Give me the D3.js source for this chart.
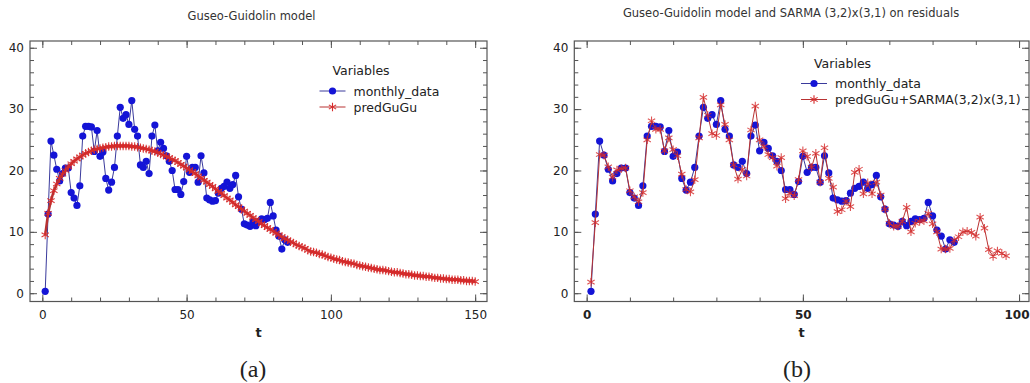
<!DOCTYPE html>
<html>
<head>
<meta charset="utf-8">
<script src="https://cdn.jsdelivr.net/npm/d3@7"></script>
<style>
  body { margin: 0; background: #fff; }
  svg { display: block; }
</style>
</head>
<body>
<svg id="chart" width="1030" height="383"></svg>
<script>
// monthly observations, t = 1..85
const monthlyData = [
  0.3, 12.9, 24.8, 22.5, 20.2, 18.3, 19.5, 20.4, 20.4, 16.4,
  15.5, 14.3, 17.5, 25.6, 27.2, 27.2, 27.1, 23.1, 26.5, 22.3,
  23.0, 18.7, 16.8, 18.1, 20.5, 25.6, 30.3, 28.5, 29.1, 27.5,
  31.4, 26.7, 25.6, 20.9, 20.5, 21.5, 19.5, 25.6, 27.4, 23.2,
  24.6, 23.6, 22.4, 21.5, 20.0, 16.9, 16.9, 16.1, 18.2, 22.3,
  19.7, 20.5, 20.5, 18.1, 22.4, 19.6, 15.5, 15.2, 15.0, 15.1,
  16.3, 17.1, 17.4, 18.1, 17.1, 17.7, 19.2, 15.7, 13.7, 11.3,
  11.1, 10.9, 11.7, 11.0, 11.7, 12.1, 12.0, 12.2, 14.8, 12.6,
  10.3, 9.3, 7.2, 8.7, 8.3
];

// Guseo-Guidolin fitted values, t = 1..150
const predGuGu = [
  9.5, 13.0, 15.1, 16.7, 17.8, 18.7, 19.4, 20.0, 20.6, 21.1,
  21.5, 21.9, 22.2, 22.5, 22.8, 23.0, 23.2, 23.4, 23.5, 23.6,
  23.7, 23.8, 23.9, 23.9, 24.0, 24.0, 24.0, 24.0, 24.0, 24.0,
  23.9, 23.9, 23.8, 23.7, 23.6, 23.5, 23.4, 23.2, 23.1, 22.9,
  22.7, 22.5, 22.3, 22.1, 21.8, 21.6, 21.3, 21.0, 20.7, 20.4,
  20.1, 19.8, 19.5, 19.1, 18.8, 18.4, 18.1, 17.7, 17.4, 17.0,
  16.6, 16.3, 15.9, 15.5, 15.2, 14.8, 14.4, 14.1, 13.7, 13.4,
  13.0, 12.7, 12.3, 12.0, 11.7, 11.3, 11.0, 10.7, 10.4, 10.1,
  9.8, 9.5, 9.2, 8.9, 8.7, 8.4, 8.2, 7.9, 7.7, 7.5,
  7.3, 7.0, 6.8, 6.7, 6.6, 6.4, 6.3, 6.1, 5.9, 5.8,
  5.6, 5.5, 5.4, 5.2, 5.1, 5.0, 4.9, 4.8, 4.6, 4.5,
  4.4, 4.3, 4.2, 4.1, 4.0, 3.9, 3.8, 3.8, 3.7, 3.6,
  3.5, 3.4, 3.4, 3.3, 3.2, 3.1, 3.1, 3.0, 2.9, 2.9,
  2.8, 2.8, 2.7, 2.7, 2.6, 2.5, 2.5, 2.4, 2.4, 2.3,
  2.3, 2.2, 2.2, 2.2, 2.1, 2.1, 2.0, 2.0, 2.0, 1.9
];

// GuGu + SARMA(3,2)x(3,1) on residuals, t = 1..97
const predSarma = [
  1.8, 11.5, 22.6, 22.5, 20.6, 18.9, 20.1, 20.3, 20.4, 16.7,
  15.7, 14.9, 16.4, 25.0, 28.1, 26.7, 26.7, 23.2, 25.3, 23.4,
  22.4, 19.4, 16.9, 16.5, 18.5, 25.3, 31.9, 29.0, 26.0, 25.7,
  30.7, 27.5, 25.0, 20.9, 18.6, 20.2, 19.1, 26.6, 30.5, 25.0,
  23.9, 22.6, 22.1, 20.7, 22.1, 15.4, 16.3, 15.9, 18.5, 23.2,
  22.3, 20.5, 22.8, 18.1, 23.7, 18.7, 17.3, 13.3, 13.6, 15.0,
  14.1, 19.7, 20.2, 16.2, 18.0, 16.2, 18.1, 16.0, 13.7, 11.4,
  10.9, 10.9, 11.7, 14.0, 10.0, 11.4, 11.7, 11.8, 13.0, 11.3,
  10.0, 7.2, 7.2, 7.3, 8.6, 9.2, 10.0, 10.1, 9.9, 9.3,
  12.4, 10.6, 7.1, 6.0, 6.9, 6.5, 6.1
];

const yTicks = [0, 10, 20, 30, 40];
const xTicksLeft = [0, 50, 100, 150];
const xTicksRight = [0, 50, 100];

const svg = d3.select('#chart');
const font = "'DejaVu Sans', Verdana, sans-serif";
const blueDot = '#1414d6';
const blueLine = '#3a3a9c';
const redStar = '#d62a2a';
const redLine = '#b83232';
const starType = d3.symbolAsterisk || d3.symbolCross;

function drawPanel(p) {
  const g = svg.append('g');
  const x = d3.scaleLinear().domain(p.xDomain).range([p.left, p.right]);
  const y = d3.scaleLinear().domain([-1.35, 41.1]).range([301.5, 41]);

  // ticks (all pointing inward), minor + major
  const minorX = d3.range(0, p.xMax + 1, 10);
  const minorY = d3.range(0, 41, 2);
  const addAxis = (axis, tf) => {
    const a = g.append('g').attr('transform', tf).call(axis);
    a.select('.domain').remove();
    a.selectAll('line').attr('stroke', '#555');
    return a;
  };
  addAxis(d3.axisBottom(x).tickValues(minorX).tickSize(-4).tickFormat(''), `translate(0,${301.5})`);
  addAxis(d3.axisTop(x).tickValues(minorX).tickSize(-4).tickFormat(''), `translate(0,${41})`);
  addAxis(d3.axisLeft(y).tickValues(minorY).tickSize(-4).tickFormat(''), `translate(${p.left},0)`);
  addAxis(d3.axisRight(y).tickValues(minorY).tickSize(-4).tickFormat(''), `translate(${p.right},0)`);
  addAxis(d3.axisTop(x).tickValues(p.xTicks).tickSize(-7).tickFormat(''), `translate(0,${41})`);
  addAxis(d3.axisRight(y).tickValues(yTicks).tickSize(-7).tickFormat(''), `translate(${p.right},0)`);

  const bx = addAxis(d3.axisBottom(x).tickValues(p.xTicks).tickSize(-7).tickPadding(8.5), `translate(0,${301.5})`);
  bx.selectAll('text')
    .attr('font-family', font).attr('font-size', 12)
    .attr('font-weight', p.boldX ? 'bold' : 'normal').attr('fill', '#222');
  // keep the last label inside the picture, as in the original
  bx.selectAll('.tick').filter(d => x(d) > 1010).select('text')
    .attr('text-anchor', 'end').attr('x', 1029 - x(p.xMax));
  const ly = addAxis(d3.axisLeft(y).tickValues(yTicks).tickSize(-7).tickPadding(6), `translate(${p.left},0)`);
  ly.selectAll('text')
    .attr('font-family', font).attr('font-size', 12).attr('fill', '#222');

  // frame
  g.append('rect')
    .attr('x', p.left).attr('y', 41)
    .attr('width', p.right - p.left).attr('height', 301.5 - 41)
    .attr('fill', 'none').attr('stroke', '#555').attr('stroke-width', 1.2);

  const clip = 'clip' + p.id;
  g.append('clipPath').attr('id', clip).append('rect')
    .attr('x', p.left).attr('y', 41).attr('width', p.right - p.left).attr('height', 260.5);
  const plot = g.append('g').attr('clip-path', `url(#${clip})`);

  const line = d3.line().x((d, i) => x(i + 1)).y(d => y(d));

  // observed data
  plot.append('path').datum(monthlyData)
    .attr('d', line).attr('fill', 'none')
    .attr('stroke', blueLine).attr('stroke-width', 1);
  plot.selectAll('.dot').data(monthlyData).enter().append('circle')
    .attr('cx', (d, i) => x(i + 1)).attr('cy', d => y(d))
    .attr('r', 3.6).attr('fill', blueDot);

  // fitted series
  plot.append('path').datum(p.pred)
    .attr('d', line).attr('fill', 'none')
    .attr('stroke', redLine).attr('stroke-width', p.bandWidth);
  plot.selectAll('.star').data(p.pred).enter().append('path')
    .attr('d', d3.symbol().type(starType).size(50))
    .attr('transform', (d, i) => `translate(${x(i + 1)},${y(d)})`)
    .attr('fill', 'none').attr('stroke', redStar)
    .attr('stroke-width', 1.1).attr('stroke-opacity', p.starOpacity);

  // titles
  g.append('text').attr('x', p.titleX).attr('y', p.titleY)
    .attr('text-anchor', 'middle').attr('font-family', font)
    .attr('font-size', 11.5).attr('fill', '#333').text(p.title);
  g.append('text').attr('x', (p.left + p.right) / 2).attr('y', 337)
    .attr('text-anchor', 'middle').attr('font-family', font)
    .attr('font-size', 13).attr('font-weight', 'bold').attr('fill', '#222').text('t');
  g.append('text').attr('x', p.capX).attr('y', 377)
    .attr('text-anchor', 'middle').attr('font-family', "'Liberation Serif', 'DejaVu Serif', serif")
    .attr('font-size', 24).attr('fill', '#222').text(p.caption);

  // legend
  const lg = g.append('g').attr('transform', `translate(${p.legX},${p.legY})`);
  lg.append('text').attr('x', 13).attr('y', -4)
    .attr('font-family', font).attr('font-size', 12.5).attr('fill', '#222').text('Variables');
  const rows = [
    { name: 'monthly_data', dy: 12, kind: 'dot' },
    { name: p.predName, dy: 28, kind: 'star' }
  ];
  rows.forEach(r => {
    lg.append('line').attr('x1', 0).attr('x2', 26).attr('y1', r.dy).attr('y2', r.dy)
      .attr('stroke', r.kind === 'dot' ? blueLine : redLine).attr('stroke-width', 1);
    if (r.kind === 'dot') {
      lg.append('circle').attr('cx', 13).attr('cy', r.dy).attr('r', 3.6).attr('fill', blueDot);
    } else {
      lg.append('path').attr('d', d3.symbol().type(starType).size(50))
        .attr('transform', `translate(13,${r.dy})`)
        .attr('fill', 'none').attr('stroke', redStar).attr('stroke-width', 1.1);
    }
    lg.append('text').attr('x', 34).attr('y', r.dy + 4.5)
      .attr('font-family', font).attr('font-size', 12.5).attr('fill', '#222').text(r.name);
  });
}

drawPanel({
  id: 'a', left: 30, right: 487, xDomain: [-4.27, 154.1], xMax: 150,
  xTicks: xTicksLeft, pred: predGuGu, predName: 'predGuGu', boldX: false,
  bandWidth: 2.5, starOpacity: 0.9,
  title: 'Guseo-Guidolin model', titleX: 251.5, titleY: 20,
  caption: '(a)', capX: 253, legX: 319.5, legY: 79
});

drawPanel({
  id: 'b', left: 574.3, right: 1029, xDomain: [-2.86, 102.3], xMax: 100,
  xTicks: xTicksRight, pred: predSarma, predName: 'predGuGu+SARMA(3,2)x(3,1)', boldX: true,
  bandWidth: 1, starOpacity: 0.8,
  title: 'Guseo-Guidolin model and SARMA (3,2)x(3,1) on residuals', titleX: 791, titleY: 16.5,
  caption: '(b)', capX: 797, legX: 801, legY: 71.5
});
</script>
</body>
</html>
